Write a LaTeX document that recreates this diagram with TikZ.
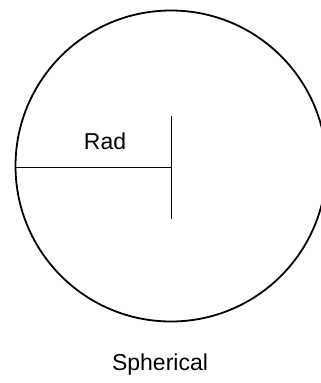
\documentclass[tikz,border=0pt]{standalone}
\usepackage{fontspec}
\setmainfont{Liberation Sans}
\usetikzlibrary{positioning}

\begin{document}
\begin{tikzpicture}[x=1pt, y=-1pt,
    label text/.style={font=\fontsize{23}{26}\selectfont, inner sep=0pt}]
    \useasboundingbox (0,0) rectangle (321,383);
    \node[draw, circle, line width=1.8pt, minimum size=311pt, inner sep=0pt] (sphere) at (171,166) {};
    \coordinate (centre) at (171,167);
    \coordinate (tick top) at (171,116);
    \coordinate (tick bottom) at (171,219);
    \draw[line width=1pt] (sphere.west |- centre) -- (centre);
    \draw[line width=1pt] (tick top) -- (tick bottom);
    \node[label text] (rad) at (105,141) {Rad};
    \node[label text] (name) at (160,365) {Spherical};
\end{tikzpicture}
\end{document}
